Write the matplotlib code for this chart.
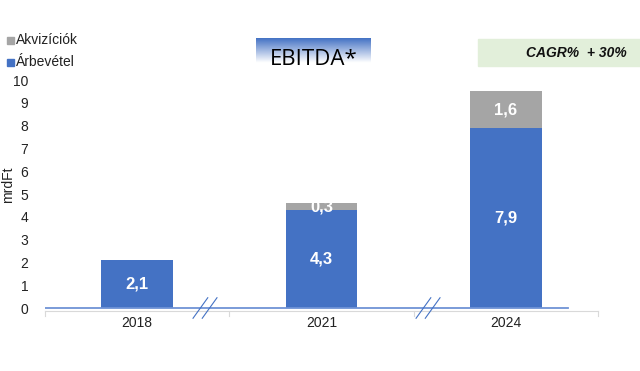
import matplotlib
matplotlib.use("Agg")
import matplotlib.pyplot as plt
import numpy as np
from matplotlib.patches import Rectangle

years = ["2018", "2021", "2024"]
revenue = [2.1, 4.3, 7.9]
acquisitions = [0.0, 0.3, 1.6]
rev_labels = ["2,1", "4,3", "7,9"]
acq_labels = ["", "0,3", "1,6"]
yticks = [0, 1, 2, 3, 4, 5, 6, 7, 8, 9, 10]

BLUE = "#4472C4"
GRAY = "#A5A5A5"

plt.rcParams['font.family'] = ['Liberation Sans', 'DejaVu Sans']

fig = plt.figure(figsize=(6.4, 3.71), dpi=100)
W, H = 640, 371
def fx(px): return px / W
def fy(py): return 1 - py / H

# y=10 at 80 px, y=0 at 308 px, ylim bottom -0.12
ymin = -0.12
pxu = (308 - 80) / 10.0
bottom_px = 308 - ymin * pxu
ax = fig.add_axes([fx(45), fy(bottom_px), fx(598) - fx(45), fy(80) - fy(bottom_px)])
x = np.arange(len(years))
bw = 0.39
ax.bar(x, revenue, bw, color=BLUE, zorder=2)
ax.bar(x, acquisitions, bw, bottom=revenue, color=GRAY, zorder=2)

for i in range(len(years)):
    ax.text(x[i], revenue[i] / 2, rev_labels[i], ha='center', va='center',
            color='white', fontsize=12, fontweight='bold', zorder=3)
    if acq_labels[i]:
        ax.text(x[i], revenue[i] + acquisitions[i] / 2, acq_labels[i], ha='center',
                va='center', color='white', fontsize=12, fontweight='bold', zorder=3)

ax.set_xlim(-0.5, 2.5)
ax.set_ylim(ymin, 10)
ax.set_yticks(yticks)
ax.set_yticklabels([str(t) for t in yticks], fontsize=10, color='#222222')
ax.tick_params(axis='y', length=0, pad=12)
ax.set_xticks(x)
ax.set_xticklabels(years, fontsize=10, color='#222222')
ax.tick_params(axis='x', length=0, pad=4)
for s in ['top', 'right', 'left']:
    ax.spines[s].set_visible(False)
ax.spines['bottom'].set_color('#D9D9D9')
for b in [-0.5, 0.5, 1.5, 2.5]:
    ax.plot([b, b], [ymin, ymin - 0.25], color='#D9D9D9', lw=0.8, clip_on=False)

ax.axhline(0, xmin=0, xmax=0.946, color='#6F93D6', lw=1.3, zorder=4)

# break marks
for bx in [0.368, 1.578]:
    for dx in [-0.025, 0.025]:
        ax.plot([bx + dx - 0.04, bx + dx + 0.04], [-0.45, 0.45], color=BLUE, lw=0.8,
                clip_on=False, zorder=5)

fig.text(fx(8), fy(185), "mrdFt", rotation=90, ha='center', va='center', fontsize=10, color='#222222')

# legend
for ly, lab, col in [(40, "Akvizíciók", GRAY), (62, "Árbevétel", BLUE)]:
    fig.patches.append(Rectangle((fx(7), fy(ly + 3.5)), fx(7), fy(ly - 3.5) - fy(ly + 3.5),
                                 transform=fig.transFigure, color=col))
    fig.text(fx(16), fy(ly), lab, ha='left', va='center', fontsize=10, color='#222222')

# title box with gradient
tax = fig.add_axes([fx(256), fy(70), fx(371) - fx(256), fy(38) - fy(70)])
grad = np.clip(np.linspace(0, 1.3, 100), 0, 1).reshape(-1, 1)
top = np.array([0x44, 0x72, 0xC4]) / 255
bot = np.array([1.0, 1.0, 1.0])
img = top[None, None, :] * (1 - grad[:, :, None]) + bot[None, None, :] * grad[:, :, None]
tax.imshow(img, aspect='auto', extent=[0, 1, 0, 1], origin='upper')
tax.axis('off')
tax.text(0.5, 0.33, "EBITDA*", ha='center', va='center', fontsize=16,
         family=['Open Sans', 'DejaVu Sans'], color='black')

# CAGR box
fig.patches.append(Rectangle((fx(478), fy(66)), fx(640) - fx(478), fy(39) - fy(66),
                             transform=fig.transFigure, color='#E2EFDA'))
fig.text(fx(627), fy(53), "CAGR%  + 30%", ha='right', va='center', fontsize=10,
         fontweight='bold', fontstyle='italic', color='#111111')

fig.savefig("out.png", dpi=100)
